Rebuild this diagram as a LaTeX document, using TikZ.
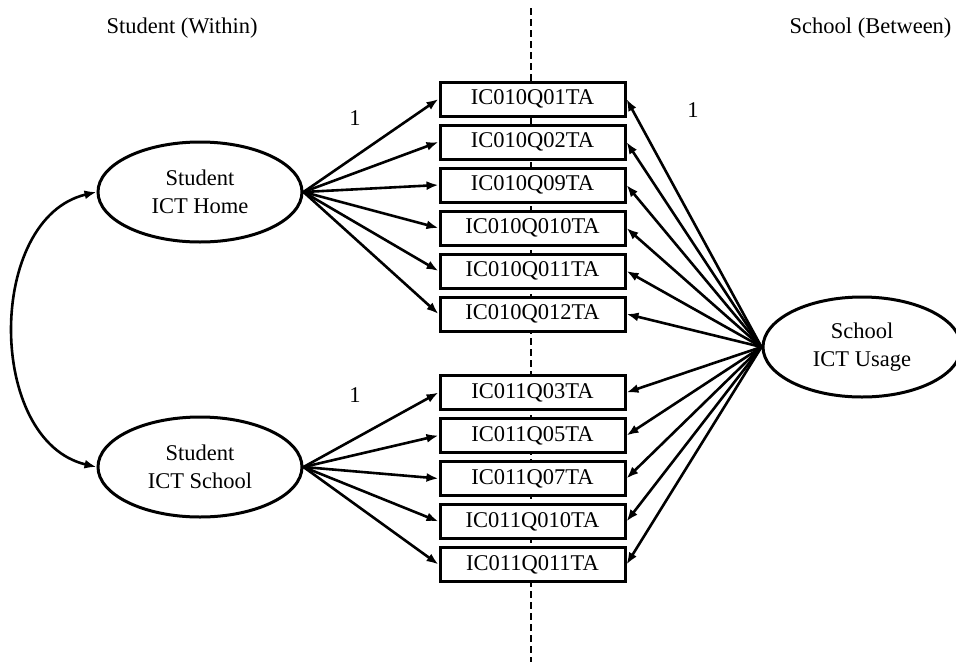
\documentclass[tikz,border=0pt]{standalone}
\usepackage{fontspec}
\setmainfont{Liberation Serif}
\usetikzlibrary{shapes.geometric,arrows.meta}
\begin{document}
\begin{tikzpicture}[x=1pt,y=-1pt,
  every node/.style={font=\fontsize{22.5}{28}\selectfont},
  item/.style={draw,rectangle,line width=3pt,fill=white,minimum width=185pt,minimum height=34pt,inner sep=0pt},
  latent/.style={draw,ellipse,line width=3pt,minimum width=204pt,minimum height=100pt,inner sep=0pt,align=center},
  tip/.style={Latex[length=12pt,width=9pt]},
  load/.style={line width=2.6pt,-{Latex[length=12pt,width=9pt]}},
  divider/.style={line width=2.8pt,dash pattern=on 7pt off 4pt}]
\useasboundingbox (0,0) rectangle (956,662);
\clip (0,0) rectangle (956,662);

% level divider
\coordinate (dtop) at (531,8);
\coordinate (dbot) at (531,662);
\draw[divider] (dtop) -- (dbot);

% level headings
\node (within) at (182,28) {Student (Within)};
\node[anchor=east] (between) at (955,28) {School (Between)};

% indicators
\node[item] (a1) at (532.5,99) {IC010Q01TA};
\node[item] (a2) at (532.5,142) {IC010Q02TA};
\node[item] (a3) at (532.5,185) {IC010Q09TA};
\node[item] (a4) at (532.5,228) {IC010Q010TA};
\node[item] (a5) at (532.5,271) {IC010Q011TA};
\node[item] (a6) at (532.5,314) {IC010Q012TA};
\node[item] (b1) at (532.5,392.5) {IC011Q03TA};
\node[item] (b2) at (532.5,435.5) {IC011Q05TA};
\node[item] (b3) at (532.5,478.5) {IC011Q07TA};
\node[item] (b4) at (532.5,521.5) {IC011Q010TA};
\node[item] (b5) at (532.5,564.5) {IC011Q011TA};

% latent factors
\node[latent] (home) at (200,192) {Student\\ICT Home};
\node[latent] (sch) at (200,467) {Student\\ICT School};
\node[latent,minimum width=198pt] (usage) at (862,347) {School\\ICT Usage};

% within-level loadings
\foreach \i in {1,...,6} \draw[load] (home.east) -- (a\i.west);
\foreach \i in {1,...,5} \draw[load] (sch.east) -- (b\i.west);

% between-level loadings
\foreach \i in {1,...,6} \draw[load] (usage.west) -- (a\i.east);
\foreach \i in {1,...,5} \draw[load] (usage.west) -- (b\i.east);

% factor covariance
\draw[line width=2.6pt,{Latex[length=12pt,width=9pt]}-{Latex[length=12pt,width=9pt]}]
  (home.west) .. controls (-14,218) and (-14,441) .. (sch.west);

% fixed loadings
\node (f1) at (355,118) {1};
\node (f2) at (693,110) {1};
\node (f3) at (355,395) {1};
\end{tikzpicture}
\end{document}
